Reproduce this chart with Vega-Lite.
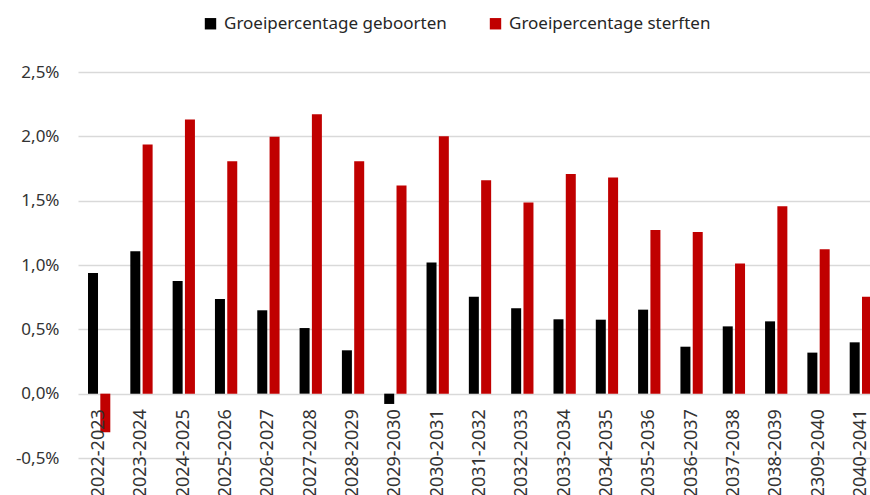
{
  "$schema": "https://vega.github.io/schema/vega-lite/v6.json",
  "autosize": "none",
  "width": 804,
  "height": 386,
  "padding": {"left": 78, "top": 72, "right": -12, "bottom": 37},
  "background": "#ffffff",
  "config": {
    "view": {"stroke": null},
    "font": "Noto Sans",
    "locale": {"number": {"decimal": ",", "thousands": ".", "grouping": [3], "currency": ["€", ""], "minus": "-"}}
  },
  "data": {
    "values": [
      {"period": "2022-2023", "series": "Groeipercentage geboorten", "value": 0.00938},
      {"period": "2022-2023", "series": "Groeipercentage sterften", "value": -0.0030},
      {"period": "2023-2024", "series": "Groeipercentage geboorten", "value": 0.01107},
      {"period": "2023-2024", "series": "Groeipercentage sterften", "value": 0.01936},
      {"period": "2024-2025", "series": "Groeipercentage geboorten", "value": 0.00876},
      {"period": "2024-2025", "series": "Groeipercentage sterften", "value": 0.02131},
      {"period": "2025-2026", "series": "Groeipercentage geboorten", "value": 0.00736},
      {"period": "2025-2026", "series": "Groeipercentage sterften", "value": 0.01806},
      {"period": "2026-2027", "series": "Groeipercentage geboorten", "value": 0.00648},
      {"period": "2026-2027", "series": "Groeipercentage sterften", "value": 0.01996},
      {"period": "2027-2028", "series": "Groeipercentage geboorten", "value": 0.0051},
      {"period": "2027-2028", "series": "Groeipercentage sterften", "value": 0.02172},
      {"period": "2028-2029", "series": "Groeipercentage geboorten", "value": 0.00337},
      {"period": "2028-2029", "series": "Groeipercentage sterften", "value": 0.01806},
      {"period": "2029-2030", "series": "Groeipercentage geboorten", "value": -0.0008},
      {"period": "2029-2030", "series": "Groeipercentage sterften", "value": 0.01617},
      {"period": "2030-2031", "series": "Groeipercentage geboorten", "value": 0.01019},
      {"period": "2030-2031", "series": "Groeipercentage sterften", "value": 0.02001},
      {"period": "2031-2032", "series": "Groeipercentage geboorten", "value": 0.00754},
      {"period": "2031-2032", "series": "Groeipercentage sterften", "value": 0.01659},
      {"period": "2032-2033", "series": "Groeipercentage geboorten", "value": 0.00663},
      {"period": "2032-2033", "series": "Groeipercentage sterften", "value": 0.01485},
      {"period": "2033-2034", "series": "Groeipercentage geboorten", "value": 0.00578},
      {"period": "2033-2034", "series": "Groeipercentage sterften", "value": 0.01708},
      {"period": "2034-2035", "series": "Groeipercentage geboorten", "value": 0.00575},
      {"period": "2034-2035", "series": "Groeipercentage sterften", "value": 0.0168},
      {"period": "2035-2036", "series": "Groeipercentage geboorten", "value": 0.00653},
      {"period": "2035-2036", "series": "Groeipercentage sterften", "value": 0.01272},
      {"period": "2036-2037", "series": "Groeipercentage geboorten", "value": 0.00365},
      {"period": "2036-2037", "series": "Groeipercentage sterften", "value": 0.01257},
      {"period": "2037-2038", "series": "Groeipercentage geboorten", "value": 0.00523},
      {"period": "2037-2038", "series": "Groeipercentage sterften", "value": 0.01011},
      {"period": "2038-2039", "series": "Groeipercentage geboorten", "value": 0.00562},
      {"period": "2038-2039", "series": "Groeipercentage sterften", "value": 0.01457},
      {"period": "2309-2040", "series": "Groeipercentage geboorten", "value": 0.00319},
      {"period": "2309-2040", "series": "Groeipercentage sterften", "value": 0.01122},
      {"period": "2040-2041", "series": "Groeipercentage geboorten", "value": 0.00399},
      {"period": "2040-2041", "series": "Groeipercentage sterften", "value": 0.00754}
    ]
  },
  "mark": {"type": "bar"},
  "encoding": {
    "x": {
      "field": "period",
      "type": "nominal",
      "sort": null,
      "scale": {"paddingInner": 0.473, "paddingOuter": 0.2365},
      "axis": {
        "title": null,
        "orient": "bottom",
        "offset": -64.3,
        "domain": false,
        "ticks": false,
        "grid": false,
        "labelAngle": -90,
        "labelAlign": "right",
        "labelBaseline": "middle",
        "labelPadding": 15,
        "labelFontSize": 18,
        "labelColor": "#333333",
        "labelFont": "Noto Sans",
        "zindex": 1
      }
    },
    "xOffset": {
      "field": "series",
      "type": "nominal",
      "scale": {"paddingInner": 0.187, "paddingOuter": 0}
    },
    "y": {
      "field": "value",
      "type": "quantitative",
      "scale": {"domain": [-0.005, 0.025], "nice": false, "zero": true},
      "axis": {
        "title": null,
        "values": [-0.005, 0, 0.005, 0.01, 0.015, 0.02, 0.025],
        "format": ".1%",
        "domain": false,
        "ticks": false,
        "labelPadding": 19,
        "labelFontSize": 17,
        "labelColor": "#333333",
        "labelFont": "Noto Sans",
        "gridColor": "#d9d9d9",
        "gridWidth": 1.5
      }
    },
    "color": {
      "field": "series",
      "type": "nominal",
      "scale": {"domain": ["Groeipercentage geboorten", "Groeipercentage sterften"], "range": ["#000000", "#C00000"]},
      "legend": {
        "title": null,
        "orient": "none",
        "direction": "horizontal",
        "legendX": 124,
        "legendY": -57,
        "symbolType": "square",
        "symbolSize": 130,
        "symbolStrokeWidth": 0,
        "labelFontSize": 17,
        "labelColor": "#262626",
        "labelFont": "Noto Sans",
        "labelOffset": 5,
        "columnPadding": 40,
        "labelLimit": 400
      }
    }
  }
}
